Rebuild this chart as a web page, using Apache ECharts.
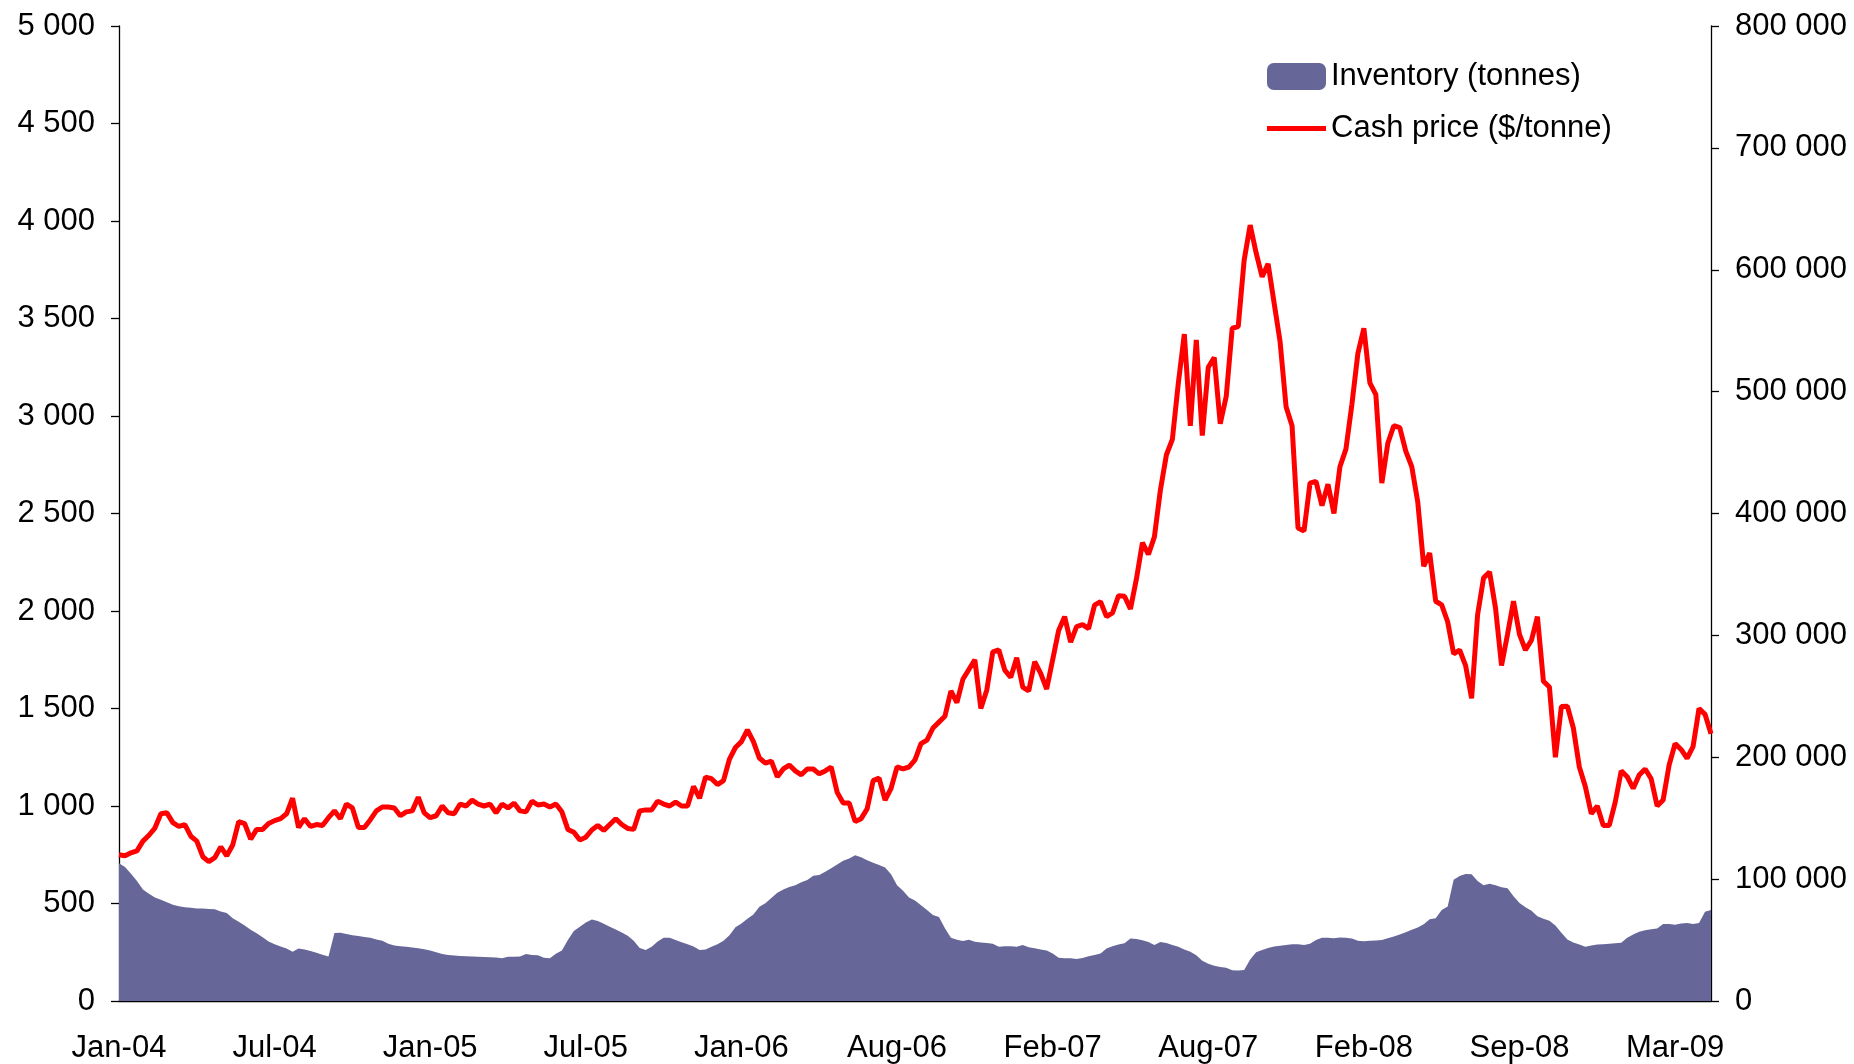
<!DOCTYPE html>
<html>
<head>
<meta charset="utf-8">
<script src="https://cdn.jsdelivr.net/npm/echarts@6/dist/echarts.min.js"></script>
<style>
  html, body { margin: 0; padding: 0; background: #fff; }
  #chart { width: 1854px; height: 1064px; }
</style>
</head>
<body>
<div id="chart"></div>
<script>
// tick labels, one every 26 points (roughly weekly points)
const tickLabels = ['Jan-04', 'Jul-04', 'Jan-05', 'Jul-05', 'Jan-06', 'Aug-06', 'Feb-07', 'Aug-07', 'Feb-08', 'Sep-08', 'Mar-09']
const labelStep = 26

// cash price, $/tonne (left axis)
const cashPrice = [
  750, 745, 760, 770, 820, 850, 887, 960, 965, 915,
  895, 905, 845, 820, 740, 715, 735, 790, 745, 800,
  920, 910, 830, 880, 880, 910, 925, 935, 960, 1040,
  890, 935, 895, 905, 900, 940, 975, 935, 1010, 990,
  890, 890, 930, 975, 995, 995, 990, 950, 970, 975,
  1045, 965, 940, 950, 1000, 965, 960, 1010, 1000, 1030,
  1010, 1000, 1010, 965, 1010, 990, 1015, 975, 970, 1025,
  1005, 1010, 995, 1010, 970, 880, 865, 826, 840, 877,
  900, 875, 905, 935, 905, 885, 880, 975, 980, 980,
  1025, 1010, 1000, 1020, 1000, 1000, 1100, 1040, 1148, 1140,
  1110, 1130, 1240, 1300, 1330, 1390, 1330, 1246, 1220, 1230,
  1150, 1190, 1210, 1180, 1160, 1190, 1190, 1165, 1180, 1200,
  1070, 1015, 1015, 920, 935, 985, 1130, 1143, 1030, 1090,
  1200, 1190, 1200, 1236, 1320, 1338, 1400, 1430, 1460, 1590,
  1530, 1650, 1700, 1750, 1500, 1595, 1790, 1800, 1697, 1660,
  1760, 1610, 1590, 1740, 1680, 1600, 1750, 1900, 1971, 1840,
  1920, 1930, 1910, 2030, 2048, 1971, 1990, 2078, 2076, 2010,
  2165, 2350, 2290, 2380, 2620, 2800, 2880, 3169, 3420, 2950,
  3390, 2900, 3250, 3300, 2960, 3100, 3450, 3458, 3800, 3979,
  3836, 3714, 3780, 3580, 3381, 3048, 2950, 2425, 2410, 2656,
  2665, 2540, 2650, 2500, 2740, 2830, 3060, 3321, 3450, 3170,
  3110, 2656, 2860, 2950, 2940, 2820, 2740, 2560, 2230, 2297,
  2050, 2031, 1945, 1780, 1800, 1720, 1552, 1980, 2170, 2200,
  2014, 1720, 1880, 2050, 1880, 1800, 1850, 1971, 1640, 1610,
  1250, 1510, 1512, 1400, 1200, 1100, 960, 1000, 900, 900,
  1020, 1180, 1150, 1090, 1159, 1190, 1140, 1000, 1031, 1210,
  1320, 1290, 1245, 1304, 1500, 1470, 1370
]

// inventory, tonnes (right axis)
const inventory = [
  113000, 110000, 104500, 98500, 91500, 88000, 85000, 83000, 81000, 79000,
  77800, 77000, 76500, 76000, 75800, 75500, 75200, 73500, 72200, 68000,
  65000, 62000, 58500, 55500, 52300, 48800, 46500, 44700, 43000, 40500,
  43000, 42200, 41000, 39500, 38000, 36500, 55700, 56000, 55000, 54000,
  53300, 52500, 51800, 50500, 49500, 47000, 45500, 45000, 44500, 44000,
  43300, 42500, 41500, 40000, 38500, 37700, 37300, 37000, 36800, 36600,
  36400, 36200, 36000, 35600, 35000, 36400, 36400, 36500, 38500, 37800,
  37500, 35500, 35000, 38800, 41500, 50000, 57500, 61000, 64500, 66800,
  65700, 63300, 61000, 58600, 56200, 53500, 49500, 43500, 41900, 44500,
  48800, 51800, 51800, 50000, 48300, 46500, 44800, 41800, 42300, 44500,
  46500, 49500, 54000, 60500, 63500, 67500, 71000, 77400, 80300, 84500,
  88800, 91500, 93500, 95000, 97500, 99200, 102700, 103400, 106000, 109000,
  112000, 115000, 117000, 119500, 118000, 115500, 113500, 111500, 109500, 104000,
  95000, 90500, 85000, 82500, 78500, 74600, 70600, 69000, 59600, 52000,
  50300, 49300, 50300, 48700, 48000, 47500, 47000, 44600, 45000, 44900,
  44600, 45900, 44200, 43200, 42300, 41500, 39000, 35500, 35000, 35000,
  34500, 35200, 36700, 37700, 39000, 43000, 45000, 46300, 47300, 51300,
  50800, 49800, 48500, 45900, 48500, 47500, 46000, 44500, 42200, 40500,
  37600, 33000, 30500, 29000, 28000, 27200, 25300, 25100, 25400, 34000,
  40000, 41800, 43500, 44800, 45400, 45900, 46500, 46500, 45900, 47000,
  50000, 51800, 51800, 51400, 52200, 51800, 51200, 49500, 49000, 49500,
  49700, 50000, 51500, 52900, 54600, 56500, 58400, 60300, 63000, 67000,
  67800, 74700, 77500, 99500, 102500, 104200, 104000, 98500, 95000, 96300,
  95000, 93400, 92500, 86000, 80500, 77000, 74000, 69500, 67500, 65900,
  62000, 56000, 50500, 48000, 46300, 44600, 45500, 46300, 46600, 47000,
  47400, 47800, 52000, 54500, 56900, 58000, 58900, 59500, 63200, 63200,
  62500, 63500, 64000, 63200, 64000, 73300, 74700
]

const categories = cashPrice.map((v, i) => String(i))
const font = "'Liberation Sans', Arial, sans-serif"

function spaced(v) {
  return String(v).replace(/\B(?=(\d{3})+(?!\d))/g, ' ')
}

const myChart = echarts.init(document.getElementById('chart'))
const option = {
  animation: false,
  backgroundColor: '#fff',
  textStyle: { fontFamily: font },
  grid: {
    left: 119,
    right: 143,
    top: 26,
    bottom: 63,
    containLabel: false
  },
  legend: {
    orient: 'vertical',
    left: 1267,
    top: 61,
    padding: 0,
    itemWidth: 59,
    itemHeight: 27,
    itemGap: 21,
    symbolKeepAspect: true,
    textStyle: { fontFamily: font, fontSize: 31, color: '#000', lineHeight: 31 },
    data: [
      { name: 'Inventory (tonnes)', icon: 'roundRect' },
      // plain red stroke, no marker
      { name: 'Cash price ($/tonne)', icon: 'path://M0,0H57V5H0Z', symbolKeepAspect: true }
    ]
  },
  xAxis: {
    type: 'category',
    boundaryGap: false,
    data: categories,
    axisLine: { lineStyle: { color: '#000', width: 1.3 } },
    axisTick: { show: false },
    splitLine: { show: false },
    axisLabel: {
      interval: labelStep - 1,
      margin: 32,
      fontSize: 31,
      color: '#000',
      fontFamily: font,
      formatter: (val, idx) => tickLabels[idx / labelStep] || ''
    }
  },
  yAxis: [
    {
      type: 'value',
      min: 0,
      max: 5000,
      interval: 500,
      axisLine: { show: true, lineStyle: { color: '#000', width: 1.3 } },
      axisTick: { show: true, length: 8, lineStyle: { color: '#000', width: 1.3 } },
      splitLine: { show: false },
      axisLabel: { margin: 24, fontSize: 31, color: '#000', fontFamily: font, formatter: spaced }
    },
    {
      type: 'value',
      position: 'right',
      min: 0,
      max: 800000,
      interval: 100000,
      axisLine: { show: true, lineStyle: { color: '#000', width: 1.3 } },
      axisTick: { show: true, length: 8, lineStyle: { color: '#000', width: 1.3 } },
      splitLine: { show: false },
      axisLabel: { margin: 24, fontSize: 31, color: '#000', fontFamily: font, formatter: spaced }
    }
  ],
  series: [
    {
      name: 'Inventory (tonnes)',
      type: 'line',
      yAxisIndex: 1,
      data: inventory,
      symbol: 'none',
      color: '#666699',
      lineStyle: { width: 0 },
      areaStyle: { color: '#666699', opacity: 1 },
      z: 1
    },
    {
      name: 'Cash price ($/tonne)',
      type: 'line',
      yAxisIndex: 0,
      data: cashPrice,
      symbol: 'none',
      color: '#ff0000',
      lineStyle: { width: 5, color: '#ff0000' },
      z: 3
    }
  ]
}
myChart.setOption(option)
</script>
</body>
</html>
